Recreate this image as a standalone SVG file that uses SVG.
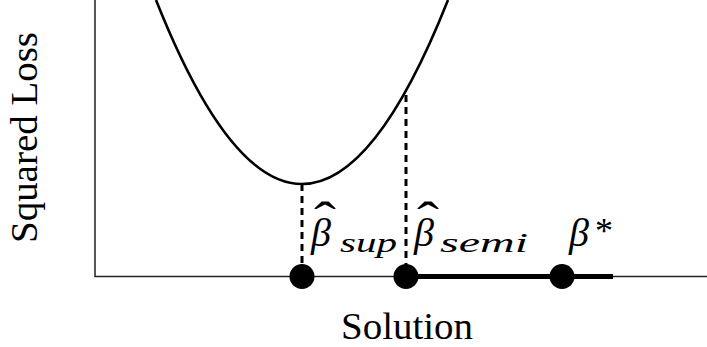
<svg xmlns="http://www.w3.org/2000/svg" width="707" height="347" viewBox="0 0 707 347">
<style>
.ax{stroke:#222;stroke-width:1.5;fill:none}
.curve{stroke:#000;stroke-width:2.6;fill:none}
.dash{stroke:#000;stroke-width:3;stroke-dasharray:7 5;fill:none}
.thick{stroke:#000;stroke-width:5;fill:none}
.dot{fill:#000}
text{fill:#000;font-family:"Liberation Serif","Times New Roman",serif}
.it{font-style:italic}
.up{font-style:normal}
</style>
<rect width="707" height="347" fill="#fff"/>
<g id="axes">
<polyline class="ax" points="95,0 95,276.5 707,276.5"/>
</g>
<g id="loss-curve">
<path class="curve" d="M156,0 Q302,368 448,0"/>
</g>
<g id="connectors">
<line class="dash" x1="302" y1="184" x2="302" y2="270"/>
<line class="dash" x1="406" y1="95" x2="406" y2="270"/>
<line class="thick" x1="406" y1="276.5" x2="613" y2="276.5"/>
</g>
<g id="beta-sup">
<circle class="dot" cx="302" cy="276.5" r="12.5"/>
<text class="it"><tspan x="311" y="246" font-size="40">β</tspan><tspan class="up" x="314" y="236" font-size="48" textLength="22" lengthAdjust="spacingAndGlyphs">ˆ</tspan><tspan x="340" y="252" font-size="28" textLength="57" lengthAdjust="spacingAndGlyphs">sup</tspan></text>
</g>
<g id="beta-semi">
<circle class="dot" cx="406" cy="276.5" r="12.5"/>
<text class="it"><tspan x="414" y="246" font-size="40">β</tspan><tspan class="up" x="417" y="236" font-size="48" textLength="22" lengthAdjust="spacingAndGlyphs">ˆ</tspan><tspan x="440" y="252" font-size="28" textLength="88" lengthAdjust="spacingAndGlyphs">semi</tspan></text>
</g>
<g id="beta-star">
<circle class="dot" cx="562" cy="276.5" r="12.5"/>
<text class="it"><tspan x="569" y="246" font-size="40">β</tspan><tspan class="up" x="595" y="243" font-size="36">*</tspan></text>
</g>
<g id="labels">
<text x="341" y="339" font-size="38" textLength="132" lengthAdjust="spacingAndGlyphs">Solution</text>
<text transform="translate(37,243) rotate(-90)" x="0" y="0" font-size="38" textLength="211" lengthAdjust="spacingAndGlyphs">Squared Loss</text>
</g>
</svg>
